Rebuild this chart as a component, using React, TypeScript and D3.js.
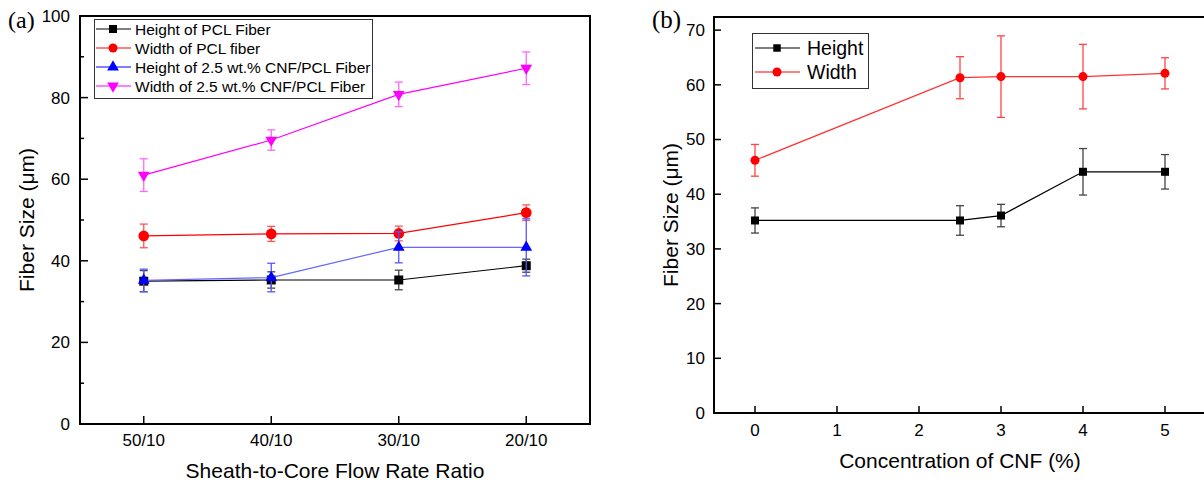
import * as d3 from 'd3';

// panel (a): fiber size vs sheath-to-core flow rate ratio
const ratioLabels = ["50/10", "40/10", "30/10", "20/10"];
const pclHeight = [35.0, 35.3, 35.3, 38.8];
const pclHeightErr = [2.6, 2.0, 2.4, 1.6];
const pclWidth = [46.1, 46.6, 46.7, 51.8];
const pclWidthErr = [2.9, 1.85, 1.8, 1.9];
const cnfHeight = [35.2, 35.9, 43.3, 43.3];
const cnfHeightErr = [2.75, 3.5, 3.8, 7.0];
const cnfWidth = [61.0, 69.6, 80.8, 87.2];
const cnfWidthErr = [4.0, 2.5, 3.0, 4.0];
const ticksA = [0, 20, 40, 60, 80, 100];
const minorTicksA = [10, 30, 50, 70, 90];

// panel (b): fiber size vs CNF concentration
const cnfConc = [0, 2.5, 3, 4, 5];
const heightB = [35.2, 35.2, 36.1, 44.1, 44.1];
const heightBErr = [2.3, 2.7, 2.05, 4.25, 3.15];
const widthB = [46.2, 61.3, 61.5, 61.5, 62.1];
const widthBErr = [2.9, 3.85, 7.45, 5.9, 2.85];
const ticksBy = [0, 10, 20, 30, 40, 50, 60, 70];
const ticksBx = [0, 1, 2, 3, 4, 5];

const FONT = "Arial, 'Liberation Sans', Helvetica, sans-serif";
const SERIF = "'Times New Roman', 'Liberation Serif', serif";

type Sym = 'square' | 'circle' | 'up' | 'down';

function symPath(kind: Sym, size: number) {
  const t = kind === 'square' ? d3.symbolSquare : kind === 'circle' ? d3.symbolCircle : d3.symbolTriangle;
  return d3.symbol().type(t).size(size)() as string;
}

function Marker({x, y, kind, size, color}: {x: number; y: number; kind: Sym; size: number; color: string}) {
  const rot = kind === 'down' ? ' rotate(180)' : '';
  return <path d={symPath(kind, size)} transform={`translate(${x},${y})${rot}`} fill={color} />;
}

function Series({xs, ys, errs, y, color, errColor, kind, size, lineColor}: any) {
  const pts = xs.map((x: number, i: number) => [x, y(ys[i])] as [number, number]);
  const line = d3.line();
  return (
    <g>
      <path d={line(pts) as string} fill="none" stroke={lineColor || color} strokeWidth={1.2} />
      {xs.map((x: number, i: number) => {
        const top = y(ys[i] + errs[i]);
        const bot = y(ys[i] - errs[i]);
        return (
          <g key={i} stroke={errColor} strokeWidth={1.3}>
            <line x1={x} x2={x} y1={top} y2={bot} />
            <line x1={x - 4} x2={x + 4} y1={top} y2={top} />
            <line x1={x - 4} x2={x + 4} y1={bot} y2={bot} />
          </g>
        );
      })}
      {pts.map((p: [number, number], i: number) => (
        <Marker key={i} x={p[0]} y={p[1]} kind={kind} size={size} color={color} />
      ))}
    </g>
  );
}

function PanelA() {
  const x = d3.scalePoint<string>().domain(ratioLabels).range([80, 590]).padding(0.5);
  const y = d3.scaleLinear().domain([0, 100]).range([424, 16]);
  const xs = ratioLabels.map(l => x(l) as number);
  const legend = [
    {label: "Height of PCL Fiber", color: "#000", kind: 'square' as Sym, size: 64},
    {label: "Width of PCL fiber", color: "#f00", kind: 'circle' as Sym, size: 64},
    {label: "Height of 2.5 wt.% CNF/PCL Fiber", color: "#00f", kind: 'up' as Sym, size: 60},
    {label: "Width of 2.5 wt.% CNF/PCL Fiber", color: "#f0f", kind: 'down' as Sym, size: 60},
  ];
  return (
    <g fontFamily={FONT}>
      <text x={8} y={28} fontFamily={SERIF} fontSize={24}>(a)</text>
      <rect x={80} y={16} width={510} height={408} fill="none" stroke="#000" strokeWidth={2} />
      {ticksA.map(t => (
        <g key={t}>
          <line x1={80} x2={88} y1={y(t)} y2={y(t)} stroke="#000" strokeWidth={1.5} />
          <text x={70} y={y(t)} dy="0.35em" textAnchor="end" fontSize={17}>{t}</text>
        </g>
      ))}
      {minorTicksA.map(t => (
        <line key={t} x1={80} x2={84} y1={y(t)} y2={y(t)} stroke="#000" strokeWidth={1.5} />
      ))}
      {ratioLabels.map(l => (
        <g key={l}>
          <line x1={x(l)} x2={x(l)} y1={424} y2={416} stroke="#000" strokeWidth={1.5} />
          <text x={x(l)} y={446} textAnchor="middle" fontSize={17}>{l}</text>
        </g>
      ))}
      <text x={335} y={478} textAnchor="middle" fontSize={21}>Sheath-to-Core Flow Rate Ratio</text>
      <text transform={`translate(34,220) rotate(-90)`} textAnchor="middle" fontSize={21}>Fiber Size (μm)</text>

      <Series xs={xs} ys={pclHeight} errs={pclHeightErr} y={y} color="#000" errColor="#444" kind="square" size={81} />
      <Series xs={xs} ys={pclWidth} errs={pclWidthErr} y={y} color="#f00" errColor="#f55" kind="circle" size={90} />
      <Series xs={xs} ys={cnfHeight} errs={cnfHeightErr} y={y} color="#00f" errColor="#55f" lineColor="#66f" kind="up" size={60} />
      <Series xs={xs} ys={cnfWidth} errs={cnfWidthErr} y={y} color="#f0f" errColor="#f6f" kind="down" size={60} />

      <rect x={94.5} y={19.5} width={278} height={79} fill="#fff" stroke="#333" strokeWidth={1} />
      {legend.map((d, i) => {
        const ly = 29 + i * 19;
        return (
          <g key={d.label}>
            <line x1={96} x2={131} y1={ly} y2={ly} stroke={d.color} strokeWidth={1.2} />
            <Marker x={113} y={ly} kind={d.kind} size={d.size} color={d.color} />
            <text x={135} y={ly} dy="0.36em" fontSize={15.5}>{d.label}</text>
          </g>
        );
      })}
    </g>
  );
}

function PanelB() {
  const x = d3.scaleLinear().domain([-0.5, 5.5]).range([714, 1206]);
  const y = d3.scaleLinear().domain([0, 72.4]).range([413, 17]);
  const xs = cnfConc.map(c => x(c));
  return (
    <g fontFamily={FONT}>
      <text x={652} y={28} fontFamily={SERIF} fontSize={25}>(b)</text>
      <rect x={714} y={17} width={492} height={396} fill="none" stroke="#000" strokeWidth={2} />
      {ticksBy.map(t => (
        <g key={t}>
          <line x1={714} x2={721} y1={y(t)} y2={y(t)} stroke="#000" strokeWidth={1.5} />
          <text x={705} y={y(t)} dy="0.35em" textAnchor="end" fontSize={17}>{t}</text>
        </g>
      ))}
      {ticksBx.map(t => (
        <g key={t}>
          <line x1={x(t)} x2={x(t)} y1={413} y2={406} stroke="#000" strokeWidth={1.5} />
          <text x={x(t)} y={436} textAnchor="middle" fontSize={17}>{t}</text>
        </g>
      ))}
      <text x={960} y={468} textAnchor="middle" fontSize={21}>Concentration of CNF (%)</text>
      <text transform={`translate(678,215) rotate(-90)`} textAnchor="middle" fontSize={21}>Fiber Size (μm)</text>

      <Series xs={xs} ys={widthB} errs={widthBErr} y={y} color="#f00" errColor="#f44" lineColor="#f33" kind="circle" size={64} />
      <Series xs={xs} ys={heightB} errs={heightBErr} y={y} color="#000" errColor="#444" kind="square" size={64} />

      <rect x={752.5} y={33.5} width={116} height={55} fill="#fff" stroke="#333" strokeWidth={1} />
      {[{label: "Height", color: "#000", kind: 'square' as Sym, size: 56},
        {label: "Width", color: "#f00", kind: 'circle' as Sym, size: 64}].map((d, i) => {
        const ly = 48 + i * 24;
        return (
          <g key={d.label}>
            <line x1={755} x2={800} y1={ly} y2={ly} stroke={d.color} strokeWidth={1.2} />
            <Marker x={777} y={ly} kind={d.kind} size={d.size} color={d.color} />
            <text x={807} y={ly} dy="0.36em" fontSize={19.5}>{d.label}</text>
          </g>
        );
      })}
    </g>
  );
}

export default function App() {
  return (
    <svg width={1204} height={483} style={{position: 'absolute', left: 0, top: 0, background: '#fff'}}>
      <rect width={1204} height={483} fill="#fff" />
      <PanelA />
      <PanelB />
    </svg>
  );
}
